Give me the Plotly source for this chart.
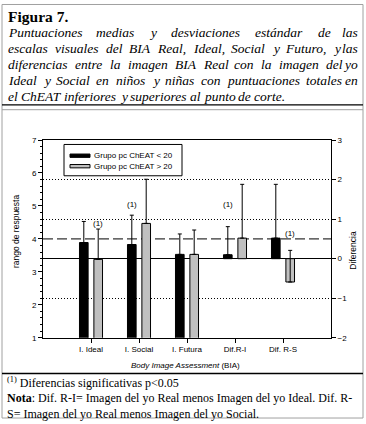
import plotly.graph_objects as go

# ---------------- data ----------------
categories = ["I. Ideal", "I. Social", "I. Futura", "Dif.R-I", "Dif. R-S"]
series_names = ["Grupo pc ChEAT < 20", "Grupo pc ChEAT > 20"]
low_mean = [3.89, 3.83, 3.53, 0.10, 0.52]
low_sd = [0.64, 0.89, 0.62, 0.71, 1.36]
high_mean = [3.38, 4.47, 3.53, 0.52, -0.59]
high_sd = [0.92, 1.34, 0.74, 1.36, 0.80]
left_ticks = [1, 2, 3, 4, 5, 6, 7]
right_ticks = [-2, -1, 0, 1, 2, 3]
sig_marks = [(0, "high"), (1, "low"), (3, "low"), (4, "high")]  # bars carrying "(1)"
sig_label_y = [4.48, 5.05, 1.36, 0.63]  # label heights on the bar's own axis

W, H = 366, 424
def px(x): return x / W
def py(y): return 1 - y / H

SANS = "Liberation Sans, Arial, sans-serif"
SERIF = "Liberation Serif, Times New Roman, serif"

xs = list(range(len(categories)))
n_left = 3

fig = go.Figure()
bar_w = 0.18
offsets = {"low": -0.24, "high": 0.06}
colors = {"low": "#000000", "high": "#c0c0c0"}
for key, means, sds in [("low", low_mean, low_sd), ("high", high_mean, high_sd)]:
    for part, axis in [(slice(0, n_left), "y"), (slice(n_left, None), "y2")]:
        fig.add_trace(go.Bar(
            x=xs[part], y=means[part], yaxis=axis,
            width=bar_w, offset=offsets[key],
            marker=dict(color=colors[key], line=dict(color="black", width=1)),
            error_y=dict(type="data", array=sds[part], arrayminus=[0] * len(sds[part]),
                         symmetric=False, color="black", thickness=1, width=2),
            showlegend=False, name=series_names[0 if key == "low" else 1],
        ))

fig.update_layout(
    width=W, height=H, margin=dict(l=0, r=0, t=0, b=0),
    paper_bgcolor="white", plot_bgcolor="white",
    barmode="overlay", showlegend=False,
    font=dict(family=SANS, size=8, color="black"),
    xaxis=dict(domain=[px(43), px(331)], range=[-1, 5], tickvals=xs, ticktext=categories,
               showline=True, linecolor="black", linewidth=1, mirror=True,
               ticks="outside", ticklen=4, tickcolor="black", showgrid=False, zeroline=False,
               tickfont=dict(size=8, family=SANS, color="black")),
    yaxis=dict(domain=[py(341), py(139)], range=[1, 7], tickvals=left_ticks,
               showline=True, linecolor="black", linewidth=1, ticks="outside", ticklen=4,
               tickcolor="black", showgrid=False, zeroline=False,
               minor=dict(dtick=0.2, ticks="outside", ticklen=2, tickcolor="black", showgrid=False),
               tickfont=dict(size=8, family=SANS, color="black")),
    yaxis2=dict(overlaying="y", side="right", range=[-2, 3], tickvals=right_ticks,
                showline=True, linecolor="black", linewidth=1, ticks="outside", ticklen=4,
                tickcolor="black", showgrid=True, gridcolor="black", griddash="1px,2px", gridwidth=1,
                zeroline=True, zerolinecolor="black", zerolinewidth=1,
                tickfont=dict(size=8, family=SANS, color="black")),
)

def note(x, y, text, size, family, xanchor="center", yanchor="middle", **kw):
    fig.add_annotation(x=px(x), y=py(y), xref="paper", yref="paper", text=text, showarrow=False,
                       xanchor=xanchor, yanchor=yanchor,
                       font=dict(size=size, family=family, color="black"), **kw)

# dashed reference line (4.0 on left axis = 0.5 on right axis)
fig.add_shape(type="line", xref="paper", x0=px(43), x1=px(331), yref="y2", y0=0.5, y1=0.5,
              line=dict(color="black", width=1, dash="10px,4px"), layer="below")

# "(1)" significance marks
for (i, k), ly in zip(sig_marks, sig_label_y):
    ax = "y" if i < n_left else "y2"
    xc = i + offsets[k] + bar_w / 2
    fig.add_annotation(x=xc, y=ly, xref="x", yref=ax, text="(1)", showarrow=False,
                       xanchor="center", yanchor="middle",
                       font=dict(size=8, family=SANS, color="black"))

# axis titles
note(16, 232, "rango de respuesta", 8.5, SANS, textangle=-90)
note(353, 252, "Diferencia", 8.5, SANS, textangle=-90)
note(185, 369, "<i>Body Image Assessment</i> (BIA)", 8, SANS)

# manual legend
fig.add_shape(type="rect", xref="paper", yref="paper", x0=px(64), x1=px(182), y0=py(143.5), y1=py(175.5),
              line=dict(color="black", width=1), fillcolor="white")
for j, key in enumerate(["low", "high"]):
    yc = 155 + 10.7 * j
    fig.add_shape(type="rect", xref="paper", yref="paper", x0=px(70), x1=px(90),
                  y0=py(yc - 1.7), y1=py(yc + 1.7), line=dict(color="black", width=1),
                  fillcolor=colors[key])
    note(92, yc, series_names[j], 8, SANS, xanchor="left")

# ---------------- frame ----------------
gray = "#a0a0a0"
lines = [
    (2, 0.5, 2, 423, gray), (363, 0.5, 363, 423, gray), (2, 0.5, 363, 0.5, gray),
    (2, 103, 363, 103, "black"), (2, 108, 363, 108, gray),
    (2, 377.5, 363, 377.5, "black"), (2, 423, 363, 423, gray),
]
for x0, y0, x1, y1, c in lines:
    fig.add_shape(type="line", xref="paper", yref="paper", x0=px(x0), y0=py(y0), x1=px(x1), y1=py(y1),
                  line=dict(color=c, width=1.3 if c == "black" else 1))

# ---------------- caption (justified) ----------------
TI = {" ": 250, "a": 500, "b": 500, "c": 444, "d": 500, "e": 444, "f": 278, "g": 500, "h": 500,
      "i": 278, "j": 278, "k": 444, "l": 278, "m": 722, "n": 500, "o": 500, "p": 500, "q": 500,
      "r": 389, "s": 389, "t": 278, "u": 500, "v": 444, "w": 667, "x": 444, "y": 444, "z": 389,
      "á": 500, "ñ": 500, "é": 444, "A": 611, "B": 611, "C": 667, "D": 722, "E": 611, "F": 611,
      "I": 333, "R": 611, "S": 500, "T": 556, ",": 250, ".": 250}
def tw(word, size):
    return sum(TI.get(ch, 500) for ch in word) * size / 1000.0

note(6, 13, "<b>Figura 7.</b>", 15.5, SERIF, xanchor="left")
title_lines = [
    "Puntuaciones medias y desviaciones estándar de las",
    "escalas visuales del BIA Real, Ideal, Social y Futuro, y las",
    "diferencias entre la imagen BIA Real con la imagen del yo",
    "Ideal y Social en niños y niñas con puntuaciones totales en",
    "el ChEAT inferiores y superiores al punto de corte.",
]
cap_size = 13.5
xl, xr = 6, 360
for k, t in enumerate(title_lines):
    yc = 29 + 16.3 * k
    words = t.split(" ")
    last = k == len(title_lines) - 1
    total = sum(tw(w, cap_size) for w in words)
    gap = tw(" ", cap_size) if last else (xr - xl - total) / (len(words) - 1)
    x = xl
    for n, w in enumerate(words):
        if n == len(words) - 1 and not last:
            note(xr, yc, f"<i>{w}</i>", cap_size, SERIF, xanchor="right")
        else:
            note(x, yc, f"<i>{w}</i>", cap_size, SERIF, xanchor="left")
        x += tw(w, cap_size) + gap

foot = [
    "<sup>(1)</sup> Diferencias significativas p<0.05",
    "<b>Nota</b>: Dif. R-I= Imagen del yo Real menos Imagen del yo Ideal. Dif. R-",
    "S= Imagen del yo Real menos Imagen del yo Social.",
]
for k, t in enumerate(foot):
    note(5, 387 + 15.7 * k, t, 12, SERIF, xanchor="left")

fig.write_html("out.html", config={"displayModeBar": False},
               post_script="document.body.style.margin='0';document.body.style.overflow='hidden';")
